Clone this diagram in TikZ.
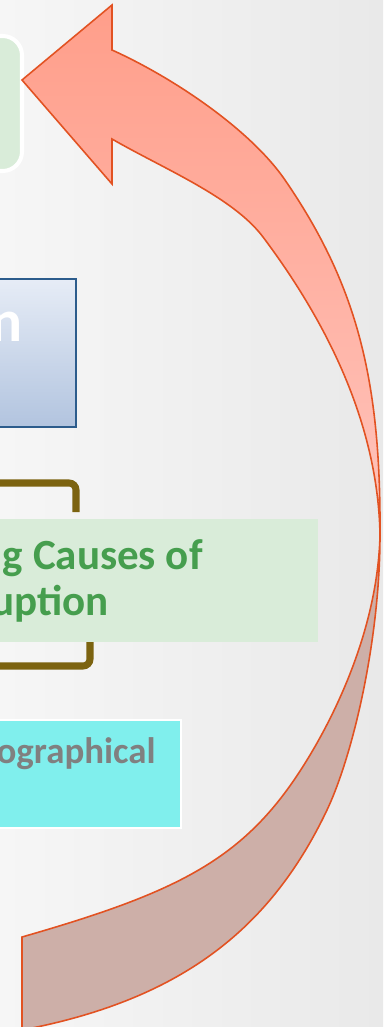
\documentclass[tikz,border=0pt]{standalone}
\usepackage{fontspec}
\setmainfont{Carlito}
\definecolor{bgleft}{RGB}{246,246,246}
\definecolor{bgright}{RGB}{233,233,233}
\definecolor{palegreen}{RGB}{217,236,217}
\definecolor{textgreen}{RGB}{70,158,78}
\definecolor{bracketbrown}{RGB}{124,99,16}
\definecolor{frameblue}{RGB}{44,92,140}
\definecolor{bluetop}{RGB}{230,236,246}
\definecolor{bluebottom}{RGB}{178,196,223}
\definecolor{aqua}{RGB}{128,239,237}
\definecolor{arrowline}{RGB}{226,82,34}
\definecolor{salmon}{RGB}{255,158,138}
\definecolor{salmonlight}{RGB}{255,196,188}
\definecolor{rose}{RGB}{205,175,168}

\begin{document}
\begin{tikzpicture}[x=0.02cm, y=-0.02cm,
panel/.style={fill=palegreen},
bracket/.style={draw=bracketbrown, line width=4pt, rounded corners=4pt},
boxtext/.style={anchor=base east, inner sep=0, font=\bfseries},
headband/.style={draw=arrowline, line width=.9pt, top color=salmon, bottom color=salmonlight},
tailband/.style={draw=arrowline, line width=.9pt, fill=rose}]
\useasboundingbox (0,0) rectangle (383,1027);
\shade[left color=bgleft, right color=bgright] (0,0) rectangle (383,1027);

% boxes
\filldraw[panel, draw=white, line width=2.3pt, rounded corners=11pt] (-40,36) rectangle (22,171);
\shade[top color=bluetop, bottom color=bluebottom, draw=frameblue, line width=1.1pt] (-40,279) rectangle (76,427);
\node[boxtext, text=white, font=\bfseries\fontsize{34}{40}\selectfont] (plan) at (23,341) {n};

\draw[bracket] (-20,483) -- (76,483) -- (76,512);
\draw[bracket] (90,640) -- (90,666) -- (-20,666);
\fill[panel] (-40,519) rectangle (318,642);
\node[boxtext, text=textgreen, font=\bfseries\fontsize{24.5}{30}\selectfont] (causes) at (203,569) {ng Causes of};
\node[boxtext, text=textgreen, font=\bfseries\fontsize{24.5}{30}\selectfont] (ruption) at (109,615) {uption};

\filldraw[fill=aqua, draw=white, line width=1.1pt] (-40,720) rectangle (181,828);
\node[boxtext, text=gray, font=\bfseries\fontsize{21}{25}\selectfont] (geo) at (156,763) {ographical};

% curved arrow
\coordinate (tip) at (22,80);
\coordinate (barbT) at (112,5);
\coordinate (barbB) at (112,184);
\coordinate (neckT) at (112,50);
\coordinate (neckB) at (112,139);
\coordinate (turn) at (380,535);
\coordinate (tailT) at (22,937);
\coordinate (tailB) at (22,1030);
\filldraw[tailband] (turn) .. controls (380,640) and (353,755) .. (327,810)
  .. controls (270,930) and (180,1000) .. (tailB) -- (tailT)
  .. controls (182,891) and (247,858) .. (307,760)
  .. controls (342,703) and (378,620) .. (turn) -- cycle;
\filldraw[headband] (tip) -- (barbT) -- (neckT)
  .. controls (172,77) and (250,129) .. (285,180)
  .. controls (357,285) and (381,380) .. (turn)
  .. controls (378,420) and (323,317) .. (263,237)
  .. controls (233,197) and (164,169) .. (neckB) -- (barbB) -- cycle;
\end{tikzpicture}
\end{document}
